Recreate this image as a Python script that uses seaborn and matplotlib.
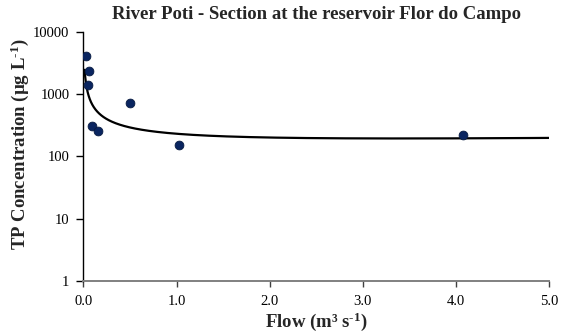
import numpy as np
import pandas as pd
import matplotlib
matplotlib.use("Agg")
import matplotlib.pyplot as plt
import seaborn as sns
from matplotlib.ticker import FixedLocator, FixedFormatter, NullLocator

# Observed flow (m3/s) and total phosphorus concentration (ug/L)
flow = [0.026, 0.047, 0.058, 0.097, 0.155, 0.504, 1.03, 4.07]
tp_conc = [4200, 1400, 2410, 310, 255, 719, 151, 224]

# Fitted concentration-flow model: C = a * Q^(-n) + b + c * Q
fit_a, fit_n, fit_b, fit_c = 96.0, 0.75, 128.0, 8.5
fit_q_start, fit_q_end = 0.014, 5.0

x_ticks = [0.0, 1.0, 2.0, 3.0, 4.0, 5.0]
x_tick_labels = ["0.0", "1.0", "2.0", "3.0", "4.0", "5.0"]
y_ticks = [1, 10, 100, 1000, 10000]
y_tick_labels = ["1", "10", "100", "1000", "10000"]

title = "River Poti - Section at the reservoir Flor do Campo"
x_label = "Flow (m³ s$^{\\mathbf{\u2010}\\mathbf{1}}$)"
y_label = "TP Concentration (µg L$^{\\mathbf{\u2010}\\mathbf{1}}$)"

sns.set_theme(style="white")
plt.rcParams["font.family"] = ["Liberation Serif", "DejaVu Serif"]
plt.rcParams["mathtext.fontset"] = "custom"
plt.rcParams["mathtext.rm"] = "Liberation Serif"
plt.rcParams["mathtext.bf"] = "Liberation Serif:bold"
plt.rcParams["mathtext.it"] = "Liberation Serif:italic"

points = pd.DataFrame({"flow": flow, "tp": tp_conc})
q = np.geomspace(fit_q_start, fit_q_end, 400)
curve = pd.DataFrame({"flow": q, "tp": fit_a * q ** (-fit_n) + fit_b + fit_c * q})

fig = plt.figure(figsize=(5.68, 3.34), dpi=100)
ax = fig.add_axes([0.1467, 0.1596, 0.8203, 0.7437])

sns.lineplot(data=curve, x="flow", y="tp", ax=ax, color="black", linewidth=1.6,
             sort=False, zorder=2)
sns.scatterplot(data=points, x="flow", y="tp", ax=ax, color="#0a2560", s=40,
                edgecolor="#071a40", linewidth=0.6, zorder=3)

ax.set_yscale("log")
ax.set_xlim(0, 5)
ax.set_ylim(1, 10000)
ax.xaxis.set_major_locator(FixedLocator(x_ticks))
ax.xaxis.set_major_formatter(FixedFormatter(x_tick_labels))
ax.yaxis.set_major_locator(FixedLocator(y_ticks))
ax.yaxis.set_major_formatter(FixedFormatter(y_tick_labels))
ax.yaxis.set_minor_locator(NullLocator())

for side in ("top", "right"):
    ax.spines[side].set_visible(False)
ax.spines["left"].set_color("black")
ax.spines["left"].set_linewidth(1.0)
ax.spines["bottom"].set_color("#808080")
ax.spines["bottom"].set_linewidth(1.4)

ax.tick_params(axis="y", which="major", direction="out", length=5, width=1.0,
               color="black", labelsize=10.5, labelcolor="black", pad=5, left=True)
ax.tick_params(axis="x", which="major", direction="out", length=4, width=1.0,
               color="#404040", labelsize=10.5, labelcolor="black", pad=6, bottom=True)

ax.set_xlabel(x_label, fontsize=13.5, fontweight="bold", labelpad=2)
ax.set_ylabel(y_label, fontsize=13.5, fontweight="bold", labelpad=1)
ax.yaxis.set_label_coords(-0.112, 0.55)
fig.text(0.558, 0.958, title, ha="center", va="center", fontsize=13.5, fontweight="bold")

fig.savefig("out.png", dpi=100)
